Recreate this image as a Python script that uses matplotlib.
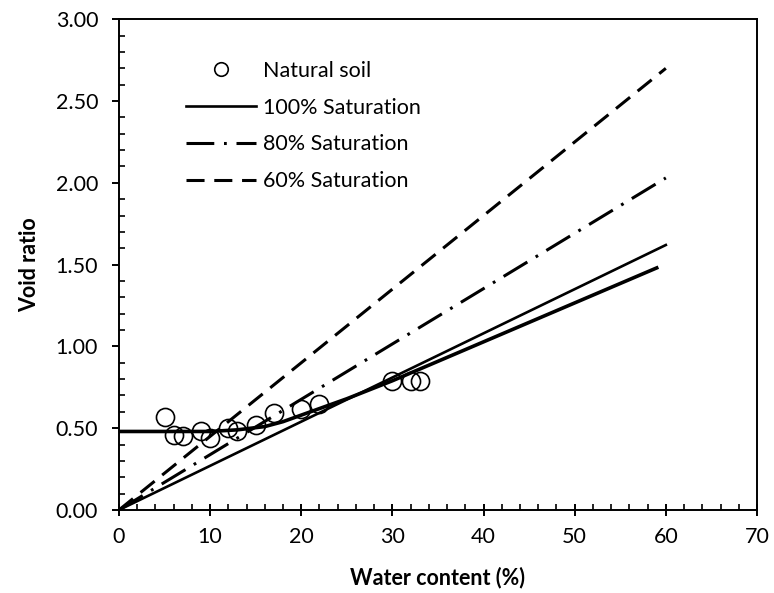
import numpy as np
import matplotlib
matplotlib.use("Agg")
import matplotlib.pyplot as plt
from matplotlib.ticker import MultipleLocator, FormatStrFormatter

plt.rcParams['font.family'] = ['Lato', 'DejaVu Sans']
plt.rcParams['lines.scale_dashes'] = False

# natural soil measurements
w_soil = [5, 6, 7, 9, 10, 12, 13, 15, 17, 20, 22, 30, 32, 33]
e_soil = [0.57, 0.46, 0.45, 0.48, 0.44, 0.50, 0.48, 0.52, 0.59, 0.62, 0.65, 0.79, 0.79, 0.79]

# fitted trend through the soil data
w_fit = [0, 10, 13, 16, 18, 20, 22, 25, 30, 59]
e_fit = [0.48, 0.48, 0.49, 0.51, 0.54, 0.58, 0.62, 0.68, 0.79, 1.48]

# saturation lines (end points)
w_sat = [0, 60]
e_100 = [0, 1.62]
e_80 = [0, 2.03]
e_60 = [0, 2.70]

fig = plt.figure(figsize=(7.74, 5.93), dpi=100)
ax = fig.add_axes([0.1537, 0.14, 0.8243, 0.8275])

ax.plot(w_soil, e_soil, linestyle='none', marker='o', markersize=13,
        markerfacecolor='none', markeredgecolor='black', markeredgewidth=1.2,
        label='Natural soil', zorder=4)
ax.plot(w_sat, e_100, color='black', linewidth=1.9, label='100% Saturation')
ax.plot(w_sat, e_80, color='black', linewidth=2.2, dashes=(20, 7, 2, 7),
        label='80% Saturation')
ax.plot(w_sat, e_60, color='black', linewidth=2.2, dashes=(13, 7),
        label='60% Saturation')
ax.plot(w_fit, e_fit, color='black', linewidth=2.6, zorder=3)

ax.set_xlim(0, 70)
ax.set_ylim(0, 3.0)
ax.xaxis.set_major_locator(MultipleLocator(10))
ax.xaxis.set_minor_locator(MultipleLocator(2))
ax.yaxis.set_major_locator(MultipleLocator(0.5))
ax.yaxis.set_minor_locator(MultipleLocator(0.1))
ax.yaxis.set_major_formatter(FormatStrFormatter('%.2f'))

ax.tick_params(which='major', direction='inout', length=9, width=1.4,
               labelsize=15.5, pad=8)
ax.tick_params(which='minor', direction='in', length=4, width=1.2)
ax.tick_params(axis='y', which='major', direction='out', length=5, pad=10)
for s in ax.spines.values():
    s.set_linewidth(1.4)

ax.set_xlabel('Water content (%)', fontsize=15.5, fontweight='bold', labelpad=14)
ax.set_ylabel('Void ratio', fontsize=15.5, fontweight='bold', labelpad=11)

ax.legend(loc='upper left', bbox_to_anchor=(0.075, 0.955), frameon=False,
          fontsize=15.5, handlelength=3.25, handletextpad=0.3,
          labelspacing=0.78, numpoints=1, markerscale=0.75)

fig.savefig('out.png', dpi=100)
